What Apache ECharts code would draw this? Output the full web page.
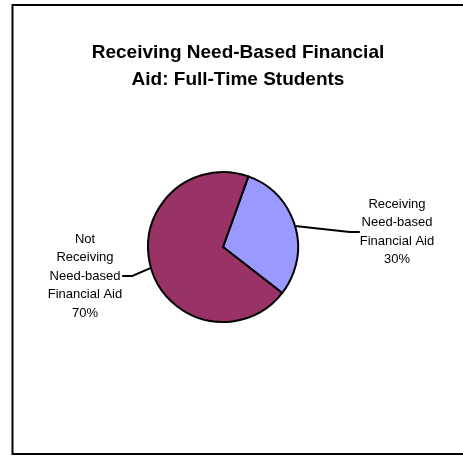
<!DOCTYPE html>
<html>
<head>
<meta charset="utf-8">
<script src="https://cdn.jsdelivr.net/npm/echarts@6/dist/echarts.min.js"></script>
<style>
  html, body { margin: 0; padding: 0; background: #fff; }
  #chart { width: 463px; height: 456px; }
</style>
</head>
<body>
<div id="chart"></div>
<script>
var categories = ['Receiving\nNeed-based\nFinancial Aid', 'Not\nReceiving\nNeed-based\nFinancial Aid']
var values = [30, 70]
var colors = ['#9999ff', '#993366']

var chart = echarts.init(document.getElementById('chart'))

var data = categories.map(function(name, i) {
    return { name: name, value: values[i], itemStyle: { color: colors[i] } }
})

var options = {
    animation: false,
    title: {
        text: 'Receiving Need-Based Financial\nAid: Full-Time Students',
        left: 233,
        textAlign: 'center',
        top: 34,
        textStyle: {
            fontFamily: 'Liberation Sans, Arial, sans-serif',
            fontSize: 19,
            fontWeight: 'bold',
            lineHeight: 27,
            color: '#000'
        }
    },
    graphic: [{
        type: 'rect',
        shape: { x: 12.5, y: 5, width: 470, height: 449 },
        style: { fill: null, stroke: '#000', lineWidth: 2 },
        silent: true
    }],
    series: [{
        type: 'pie',
        center: [223, 247],
        radius: 75,
        startAngle: 70.2,
        clockwise: true,
        data: data,
        itemStyle: { borderColor: '#000', borderWidth: 2 },
        label: {
            show: true,
            position: 'outside',
            formatter: function(p) { return p.name + '\n' + p.value + '%' },
            fontFamily: 'Liberation Sans, Arial, sans-serif',
            fontSize: 13,
            lineHeight: 18.5,
            color: '#000',
            align: 'center'
        },
        labelLine: {
            show: true,
            length: 10,
            length2: 10,
            lineStyle: { color: '#000', width: 2 }
        },
        labelLayout: function(p) {
            if (p.dataIndex === 0) {
                return { x: 397, y: 232, align: 'center', verticalAlign: 'middle' }
            }
            return { x: 85, y: 276, align: 'center', verticalAlign: 'middle' }
        },
        emphasis: { disabled: true }
    }]
}

chart.setOption(options)
</script>
</body>
</html>
